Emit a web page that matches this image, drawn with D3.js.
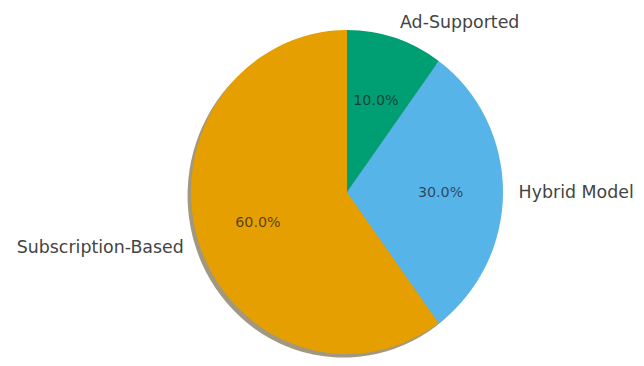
<!DOCTYPE html>
<html>
<head>
<meta charset="utf-8">
<script src="https://cdn.jsdelivr.net/npm/d3@7"></script>
<style>
  html, body { margin: 0; padding: 0; background: #fff; }
  svg { display: block; }
</style>
</head>
<body>
<svg id="chart" width="644" height="366"></svg>
<script>
// Revenue model shares
const categories = ["Subscription-Based", "Hybrid Model", "Ad-Supported"];
const shares = [60, 30, 10];
const colors = ["#E69F00", "#56B4E9", "#009E73"];

const width = 644, height = 366;
const cx = 347, cy = 192;
const rx = 156, ry = 162;           // pie is drawn slightly taller than wide
const shadowOffset = 0.022;          // in units of radius, down and to the left

const svg = d3.select("#chart");

const data = categories.map((c, i) => ({ name: c, value: shares[i], color: colors[i] }));

// Counter-clockwise from 12 o'clock
const pie = d3.pie().sort(null).value(d => d.value)
  .startAngle(0).endAngle(-2 * Math.PI);
const arcs = pie(data);

const arc = d3.arc().innerRadius(0).outerRadius(rx);

const shade = c => {
  const k = d3.rgb(c);
  return d3.rgb(k.r * 0.3, k.g * 0.3, k.b * 0.3);
};

// Shadows beneath all wedges
const gShadow = svg.append("g")
  .attr("transform", `translate(${cx - shadowOffset * rx},${cy + shadowOffset * ry}) scale(1,${ry / rx})`);
gShadow.selectAll("path").data(arcs).join("path")
  .attr("d", arc)
  .attr("fill", d => shade(d.data.color))
  .attr("fill-opacity", 0.5);

// Wedges
const gPie = svg.append("g")
  .attr("transform", `translate(${cx},${cy}) scale(1,${ry / rx})`);
gPie.selectAll("path").data(arcs).join("path")
  .attr("d", arc)
  .attr("fill", d => d.data.color);

const mid = d => (d.startAngle + d.endAngle) / 2;
const px = (d, f) => cx + f * rx * Math.sin(mid(d));
const py = (d, f) => cy - f * ry * Math.cos(mid(d));

// Category labels outside the pie
svg.append("g").selectAll("text").data(arcs).join("text")
  .attr("x", d => px(d, 1.1))
  .attr("y", d => py(d, 1.1))
  .attr("dy", "0.32em")
  .attr("text-anchor", d => px(d, 1.1) > cx ? "start" : "end")
  .attr("font-family", "DejaVu Sans, sans-serif")
  .attr("font-size", "17.4px")
  .attr("fill", "#444")
  .text(d => d.data.name);

// Percentage labels inside the wedges
svg.append("g").selectAll("text").data(arcs).join("text")
  .attr("x", d => px(d, 0.6))
  .attr("y", d => py(d, 0.6))
  .attr("dy", "0.35em")
  .attr("text-anchor", "middle")
  .attr("font-family", "DejaVu Sans, sans-serif")
  .attr("font-size", "14.3px")
  .attr("fill", "#1a1a1a")
  .attr("fill-opacity", 0.72)
  .text(d => d.data.value.toFixed(1) + "%");
</script>
</body>
</html>
